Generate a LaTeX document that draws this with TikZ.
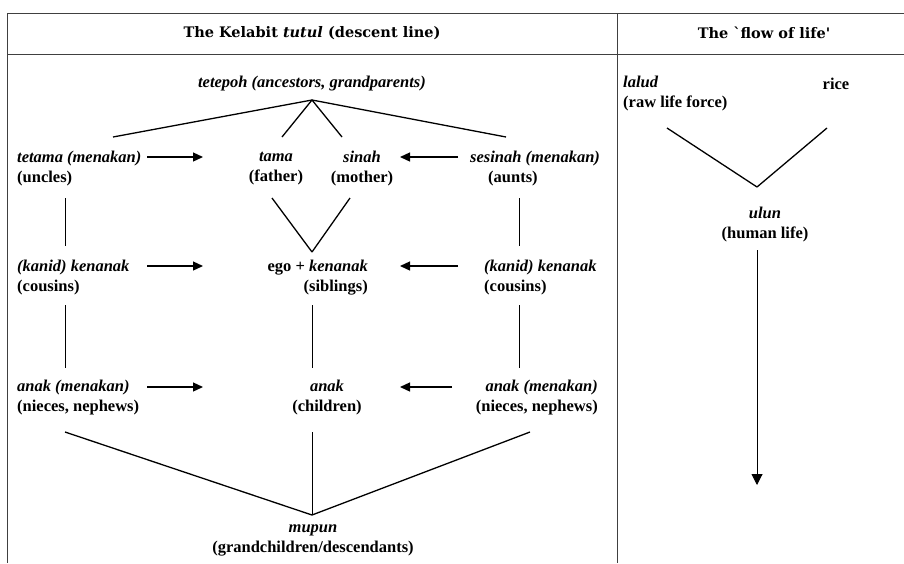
\documentclass[tikz,border=0pt]{standalone}
\usepackage{fontspec}
\setmainfont{Liberation Serif}
\newfontfamily\headfont{DejaVu Serif}
\usetikzlibrary{arrows.meta}

\begin{document}
\begin{tikzpicture}[x=1pt,y=-1pt,
    term/.style ={font=\bfseries\fontsize{16.5}{20}\selectfont, inner sep=0pt},
    head/.style ={font=\headfont\bfseries\fontsize{14.5}{16}\selectfont, inner sep=0pt},
    link/.style ={line width=1.3pt},
    stem/.style ={line width=0.9pt},
    kin/.style ={line width=1.3pt, -{Triangle[length=10pt,width=9pt]}},
    rule/.style ={line width=0.8pt, black!75}]
   \useasboundingbox (0,0) rectangle (904,563);
   % table
   \coordinate (TL) at (7,13);
   \coordinate (TR) at (904,13);
   \coordinate (HL) at (7,54);
   \coordinate (HR) at (904,54);
   \coordinate (BL) at (7,563);
   \coordinate (MT) at (617,13);
   \coordinate (MB) at (617,563);
   \draw[rule] (TL) to (TR);
   \draw[rule] (HL) to (HR);
   \draw[rule] (TL) to (BL);
   \draw[rule] (MT) to (MB);
   \node[head] (H1) at (312,33) {The Kelabit \textit{tutul} (descent line)};
   \node[head] (H2) at (764,33) {The `flow of life'};
   % descent line
   \node[term] (tetepoh) at (312,84) {\textit{tetepoh (ancestors, grandparents)}};
   \node[term, anchor=west, align=left] (tetama) at (17,169) {\textit{tetama (menakan)}\\(uncles)};
   \node[term, align=center] (tama) at (276,169) {\textit{tama}\\(father)};
   \node[term, align=center] (sinah) at (362,169) {\textit{sinah}\\(mother)};
   \node[term, anchor=west, align=left] (sesinah) at (470,169) {\textit{sesinah (menakan)}\\\hspace*{18pt}(aunts)};
   \node[term, anchor=west, align=left] (kanidL) at (17,278) {\textit{(kanid) kenanak}\\(cousins)};
   \node[term, anchor=east, align=right] (ego) at (368,278) {ego + \textit{kenanak}\\(siblings)};
   \node[term, anchor=west, align=left] (kanidR) at (484,278) {\textit{(kanid) kenanak}\\(cousins)};
   \node[term, anchor=west, align=left] (anakL) at (17,398) {\textit{anak (menakan)}\\(nieces, nephews)};
   \node[term, align=center] (anak) at (327,398) {\textit{anak}\\(children)};
   \node[term, anchor=east, align=right] (anakR) at (598,398) {\textit{anak (menakan)}\\(nieces, nephews)};
   \node[term, align=center] (mupun) at (313,540) {\textit{mupun}\\(grandchildren/descendants)};
   \coordinate (apex) at (312,100);
   \coordinate (a1) at (113,137);
   \coordinate (a2) at (282,137);
   \coordinate (a3) at (342,137);
   \coordinate (a4) at (506,137);
   \draw[link] (a1) to (apex);
   \draw[link] (a2) to (apex);
   \draw[link] (a3) to (apex);
   \draw[link] (a4) to (apex);
   \coordinate (v1) at (272,198);
   \coordinate (v2) at (312,252);
   \coordinate (v3) at (350,198);
   \draw[link] (v1) to (v2);
   \draw[link] (v3) to (v2);
   \coordinate (s1) at (65,198);
   \coordinate (s2) at (65,246);
   \coordinate (s3) at (519,198);
   \coordinate (s4) at (519,246);
   \draw[stem] (s1) to (s2);
   \draw[stem] (s3) to (s4);
   \coordinate (t1) at (65,305);
   \coordinate (t2) at (65,368);
   \coordinate (t3) at (312,305);
   \coordinate (t4) at (312,368);
   \coordinate (t5) at (519,305);
   \coordinate (t6) at (519,368);
   \draw[stem] (t1) to (t2);
   \draw[stem] (t3) to (t4);
   \draw[stem] (t5) to (t6);
   \coordinate (base) at (312,515);
   \coordinate (b1) at (65,432);
   \coordinate (b2) at (312,432);
   \coordinate (b3) at (530,432);
   \draw[link] (b1) to (base);
   \draw[stem] (b2) to (base);
   \draw[link] (b3) to (base);
   % arrows into the line
   \coordinate (k1) at (147,157);
   \coordinate (k2) at (203,157);
   \coordinate (k3) at (458,157);
   \coordinate (k4) at (400,157);
   \coordinate (k5) at (147,266);
   \coordinate (k6) at (203,266);
   \coordinate (k7) at (458,266);
   \coordinate (k8) at (400,266);
   \coordinate (k9) at (147,387);
   \coordinate (k10) at (203,387);
   \coordinate (k11) at (452,387);
   \coordinate (k12) at (400,387);
   \draw[kin] (k1) to (k2);
   \draw[kin] (k3) to (k4);
   \draw[kin] (k5) to (k6);
   \draw[kin] (k7) to (k8);
   \draw[kin] (k9) to (k10);
   \draw[kin] (k11) to (k12);
   % flow of life
   \node[term, anchor=west, align=left] (lalud) at (623,94) {\textit{lalud}\\(raw life force)};
   \node[term] (rice) at (836,84) {rice};
   \node[term, align=center] (ulun) at (765,225) {\textit{ulun}\\(human life)};
   \coordinate (f1) at (667,128);
   \coordinate (f2) at (757,187);
   \coordinate (f3) at (827,128);
   \draw[link] (f1) to (f2);
   \draw[link] (f3) to (f2);
   \coordinate (d1) at (757,250);
   \coordinate (d2) at (757,485);
   \draw[kin, line width=1pt, -{Triangle[length=11pt,width=11pt]}] (d1) to (d2);
 \end{tikzpicture}
\end{document}
